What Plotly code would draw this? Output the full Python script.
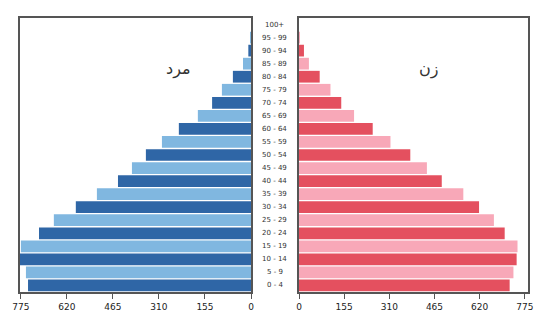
import plotly.graph_objects as go

age_groups = ["0 - 4", "5 - 9", "10 - 14", "15 - 19", "20 - 24", "25 - 29", "30 - 34",
              "35 - 39", "40 - 44", "45 - 49", "50 - 54", "55 - 59", "60 - 64", "65 - 69",
              "70 - 74", "75 - 79", "80 - 84", "85 - 89", "90 - 94", "95 - 99", "100+"]
male = [751, 758, 780, 775, 714, 664, 590, 519, 448, 401, 354, 300, 243, 179,
        131, 98, 61, 27, 9, 2, 0]
female = [723, 736, 747, 750, 706, 669, 618, 564, 490, 439, 382, 314, 253, 189,
          145, 108, 71, 34, 17, 3, 0]
tick_vals = [0, 155, 310, 465, 620, 775]
tick_text = ["0", "155", "310", "465", "620", "775"]
label_male = "مرد"
label_female = "زن"

male_colors = ["#2f66a6" if i % 2 == 0 else "#80b7e0" for i in range(len(age_groups))]
female_colors = ["#e4505f" if i % 2 == 0 else "#f8a8b8" for i in range(len(age_groups))]

fig = go.Figure()
fig.add_trace(go.Bar(y=age_groups, x=male, orientation="h", marker_color=male_colors,
                     marker_line_width=0, xaxis="x", yaxis="y", showlegend=False))
fig.add_trace(go.Bar(y=age_groups, x=female, orientation="h", marker_color=female_colors,
                     marker_line_width=0, xaxis="x2", yaxis="y2", showlegend=False))

W, H = 534, 318
T, B = 18, 26
PH = H - T - B
line_common = dict(showline=True, linecolor="#555555", linewidth=1.5, mirror=True,
                   automargin=False)
axis_common = dict(showgrid=False, zeroline=False, ticks="outside", ticklen=5,
                   tickcolor="#555555", tickvals=tick_vals, ticktext=tick_text,
                   tickfont=dict(family="DejaVu Sans", size=9, color="#222222"),
                   **line_common)
yaxis_common = dict(type="category", categoryorder="array", categoryarray=age_groups,
                    showticklabels=False, showgrid=False, ticks="",
                    range=[-0.5, len(age_groups) - 0.5], **line_common)
fig.update_layout(
    template="none",
    width=W, height=H,
    margin=dict(l=0, r=0, t=T, b=B),
    paper_bgcolor="white", plot_bgcolor="white",
    bargap=0.1,
    xaxis=dict(domain=[20 / W, 251 / W], range=[778, 0], anchor="y", **axis_common),
    xaxis2=dict(domain=[299 / W, 528 / W], range=[0, 786], anchor="y2", **axis_common),
    yaxis=dict(anchor="x", **yaxis_common),
    yaxis2=dict(anchor="x2", matches="y", **yaxis_common),
)

annotations = []
for g in age_groups:
    annotations.append(dict(x=274.5 / W, xref="paper", y=g, yref="y", text=g,
                            showarrow=False, xanchor="center", yanchor="middle",
                            font=dict(family="DejaVu Sans", size=7, color="#333333")))
annotations.append(dict(x=178 / W, xref="paper", y=1 - 39 / PH, yref="paper",
                        text=label_male, showarrow=False,
                        font=dict(family="DejaVu Sans", size=16, color="#333333")))
annotations.append(dict(x=440 / W, xref="paper", y=1 - 39 / PH, yref="paper",
                        text=label_female, showarrow=False,
                        font=dict(family="DejaVu Sans", size=16, color="#333333")))
fig.update_layout(annotations=annotations)

fig.write_html("out.html", config={"displayModeBar": False},
               post_script="document.body.style.margin='0';document.body.style.overflow='hidden';")
